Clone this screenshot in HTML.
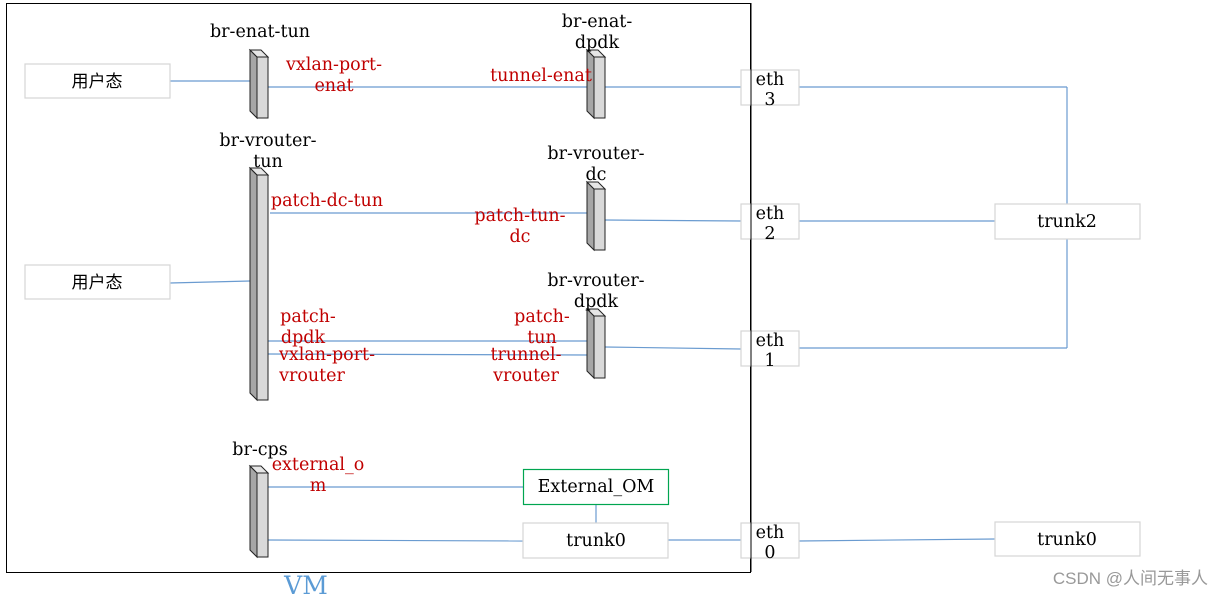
<!DOCTYPE html>
<html><head><meta charset="utf-8"><style>
html,body{margin:0;padding:0;background:#fff;}
svg{display:block;}
.t{font-family:"DejaVu Serif","Liberation Serif",serif;font-size:17.5px;fill:#000;}
.r{font-family:"DejaVu Serif","Liberation Serif",serif;font-size:17.5px;fill:#c00000;}
.c{font-family:"Liberation Sans","Noto Sans CJK SC",sans-serif;font-size:17px;fill:#000;}
</style></head><body>
<svg width="1225" height="597" viewBox="0 0 1225 597" xmlns="http://www.w3.org/2000/svg">
<rect x="6.5" y="3.5" width="744" height="569" fill="none" stroke="#000" stroke-width="1"/>

<g stroke="#6a9bd0" stroke-width="1.2" fill="none">
<line x1="170" y1="81" x2="250" y2="81"/>
<line x1="268" y1="87" x2="587" y2="87"/>
<line x1="605" y1="87" x2="741" y2="87"/>
<line x1="799" y1="87" x2="1067" y2="87"/>
<line x1="1067" y1="87" x2="1067" y2="204"/>
<line x1="1067" y1="239" x2="1067" y2="348"/>
<line x1="799" y1="348" x2="1067" y2="348"/>
<line x1="799" y1="221" x2="995" y2="221"/>
<line x1="270" y1="213" x2="587" y2="213"/>
<line x1="605" y1="220" x2="741" y2="221"/>
<line x1="170" y1="283" x2="250" y2="281"/>
<line x1="268" y1="341" x2="587" y2="341"/>
<line x1="268" y1="354" x2="587" y2="355"/>
<line x1="605" y1="347" x2="741" y2="349"/>
<line x1="268" y1="487" x2="523" y2="487"/>
<line x1="268" y1="540" x2="523" y2="541"/>
<line x1="596" y1="504" x2="596" y2="523"/>
<line x1="668" y1="540" x2="741" y2="540"/>
<line x1="799" y1="541" x2="995" y2="539"/>
</g>

<g stroke="#d6d6d6" stroke-width="1.2" fill="#fff">
<rect x="25" y="64" width="145" height="34"/>
<rect x="25" y="265" width="145" height="34"/>
<rect x="741" y="70" width="58" height="35"/>
<rect x="741" y="204" width="58" height="35"/>
<rect x="741" y="331" width="58" height="35"/>
<rect x="741" y="523" width="58" height="35"/>
<rect x="995" y="204" width="145" height="35"/>
<rect x="995" y="522" width="145" height="34"/>
<rect x="523" y="523" width="145" height="35"/>
</g>
<rect x="523.5" y="469.5" width="145" height="35" fill="#fff" stroke="#00a550" stroke-width="1.2"/>
<line x1="751" y1="3" x2="751" y2="572" stroke="#000" stroke-width="1"/>

<g stroke="#222" stroke-width="1">
<g transform="translate(250,50)">
<polygon points="0,0 7,7 7,68 0,61" fill="#a6a6a6"/><polygon points="7,7 18,7 18,68 7,68" fill="#d9d9d9"/><polygon points="0,0 11,0 18,7 7,7" fill="#e6e6e6"/></g>
<g transform="translate(587,50)">
<polygon points="0,0 7,7 7,68 0,61" fill="#a6a6a6"/><polygon points="7,7 18,7 18,68 7,68" fill="#d9d9d9"/><polygon points="0,0 11,0 18,7 7,7" fill="#e6e6e6"/></g>
<g transform="translate(250,168)">
<polygon points="0,0 7,7 7,232 0,225" fill="#a6a6a6"/><polygon points="7,7 18,7 18,232 7,232" fill="#d9d9d9"/><polygon points="0,0 11,0 18,7 7,7" fill="#e6e6e6"/></g>
<g transform="translate(587,182)">
<polygon points="0,0 7,7 7,68 0,61" fill="#a6a6a6"/><polygon points="7,7 18,7 18,68 7,68" fill="#d9d9d9"/><polygon points="0,0 11,0 18,7 7,7" fill="#e6e6e6"/></g>
<g transform="translate(587,309)">
<polygon points="0,0 7,7 7,69 0,62" fill="#a6a6a6"/><polygon points="7,7 18,7 18,69 7,69" fill="#d9d9d9"/><polygon points="0,0 11,0 18,7 7,7" fill="#e6e6e6"/></g>
<g transform="translate(250,466)">
<polygon points="0,0 7,7 7,91 0,84" fill="#a6a6a6"/><polygon points="7,7 18,7 18,91 7,91" fill="#d9d9d9"/><polygon points="0,0 11,0 18,7 7,7" fill="#e6e6e6"/></g>
</g>

<g class="t" text-anchor="middle">
<text x="260" y="37">br-enat-tun</text>
<text x="597" y="27">br-enat-</text><text x="597" y="48">dpdk</text>
<text x="268" y="146">br-vrouter-</text><text x="268" y="167">tun</text>
<text x="596" y="159">br-vrouter-</text><text x="596" y="180">dc</text>
<text x="596" y="286">br-vrouter-</text><text x="596" y="307">dpdk</text>
<text x="260" y="455">br-cps</text>
<text x="770" y="85">eth</text><text x="770" y="105">3</text>
<text x="770" y="219">eth</text><text x="770" y="239">2</text>
<text x="770" y="346">eth</text><text x="770" y="366">1</text>
<text x="770" y="538">eth</text><text x="770" y="558">0</text>
<text x="1067" y="227">trunk2</text>
<text x="1067" y="545">trunk0</text>
<text x="596" y="492">External_OM</text>
<text x="596" y="546">trunk0</text>
</g>
<g class="c" text-anchor="middle">
<text x="97" y="87">用户态</text>
<text x="97" y="288">用户态</text>
</g>
<g class="r" text-anchor="middle">
<text x="334" y="70">vxlan-port-</text><text x="334" y="91">enat</text>
<text x="541" y="81">tunnel-enat</text>
<text x="327" y="206">patch-dc-tun</text>
<text x="520" y="221">patch-tun-</text><text x="520" y="242">dc</text>
<text x="308" y="322">patch-</text><text x="303" y="343">dpdk</text>
<text x="542" y="322">patch-</text><text x="542" y="343">tun</text>
<text x="327" y="360">vxlan-port-</text><text x="312" y="381">vrouter</text>
<text x="526" y="360">trunnel-</text><text x="526" y="381">vrouter</text>
<text x="318" y="470">external_o</text><text x="318" y="491">m</text>
</g>
<text x="306" y="594" text-anchor="middle" style="font-family:'DejaVu Serif','Liberation Serif',serif;font-size:25px;fill:#5b9bd5">VM</text>
<text x="1208" y="584" text-anchor="end" style="font-family:'Liberation Sans','Noto Sans CJK SC',sans-serif;font-size:17px;fill:#999">CSDN @人间无事人</text>
</svg>
</body></html>
